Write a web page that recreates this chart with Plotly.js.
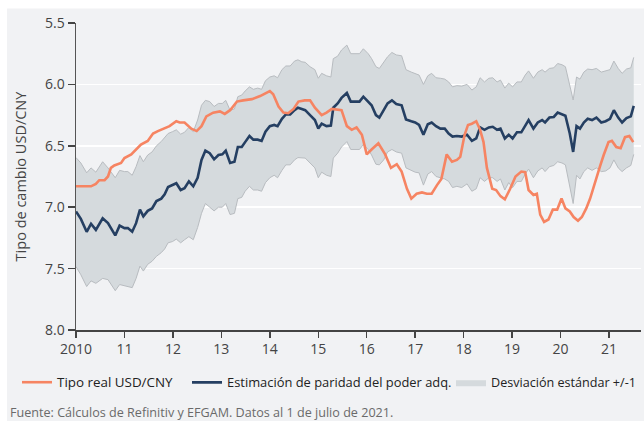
<!DOCTYPE html>
<html>
<head>
<meta charset="utf-8">
<script src="https://cdn.plot.ly/plotly-3.0.1.min.js"></script>
<style>html,body{margin:0;padding:0;background:#fff;}#chart{width:644px;height:421px;}</style>
</head>
<body>
<div id="chart"></div>
<script>
// PPP estimate (navy) and +/-1 std band
var pppYears = [2010.00,2010.10,2010.22,2010.31,2010.41,2010.55,2010.66,2010.81,2010.90,2011.00,2011.07,2011.16,2011.24,2011.32,2011.39,2011.48,2011.57,2011.66,2011.76,2011.83,2011.90,2011.99,2012.07,2012.16,2012.24,2012.33,2012.42,2012.51,2012.59,2012.67,2012.76,2012.85,2012.94,2013.02,2013.09,2013.18,2013.27,2013.34,2013.42,2013.49,2013.58,2013.66,2013.75,2013.83,2013.91,2014.00,2014.09,2014.16,2014.25,2014.33,2014.42,2014.51,2014.58,2014.66,2014.73,2014.83,2014.93,2015.00,2015.07,2015.17,2015.26,2015.31,2015.40,2015.48,2015.59,2015.67,2015.76,2015.85,2015.93,2016.03,2016.10,2016.19,2016.26,2016.35,2016.43,2016.52,2016.61,2016.72,2016.81,2016.92,2017.00,2017.08,2017.17,2017.26,2017.34,2017.43,2017.52,2017.61,2017.69,2017.77,2017.86,2017.96,2018.07,2018.17,2018.26,2018.34,2018.43,2018.52,2018.60,2018.69,2018.76,2018.85,2018.93,2019.01,2019.10,2019.19,2019.27,2019.34,2019.44,2019.53,2019.62,2019.68,2019.77,2019.86,2019.94,2020.03,2020.10,2020.19,2020.26,2020.33,2020.40,2020.48,2020.56,2020.65,2020.74,2020.84,2020.93,2021.02,2021.10,2021.19,2021.27,2021.36,2021.45,2021.51];
var pppValues = [7.035,7.095,7.20,7.135,7.185,7.09,7.13,7.23,7.15,7.17,7.17,7.20,7.13,7.02,7.075,7.03,7.01,6.95,6.93,6.895,6.835,6.82,6.805,6.86,6.845,6.79,6.83,6.76,6.615,6.54,6.56,6.61,6.575,6.57,6.54,6.64,6.63,6.51,6.51,6.47,6.42,6.45,6.45,6.46,6.385,6.34,6.33,6.34,6.28,6.245,6.245,6.21,6.19,6.20,6.21,6.25,6.29,6.36,6.32,6.34,6.335,6.19,6.155,6.11,6.07,6.14,6.14,6.14,6.10,6.14,6.17,6.25,6.27,6.21,6.155,6.13,6.16,6.17,6.285,6.30,6.31,6.33,6.41,6.325,6.31,6.34,6.36,6.36,6.40,6.425,6.42,6.425,6.41,6.46,6.44,6.35,6.37,6.35,6.345,6.37,6.36,6.44,6.41,6.44,6.39,6.39,6.33,6.29,6.36,6.31,6.29,6.31,6.27,6.265,6.23,6.245,6.255,6.40,6.55,6.34,6.36,6.31,6.28,6.29,6.27,6.31,6.30,6.28,6.21,6.27,6.31,6.275,6.26,6.175];
var bandUpper = [6.596,6.64,6.72,6.68,6.715,6.63,6.68,6.76,6.70,6.71,6.71,6.74,6.67,6.58,6.63,6.575,6.55,6.50,6.465,6.43,6.40,6.385,6.37,6.405,6.39,6.35,6.385,6.29,6.17,6.13,6.14,6.18,6.155,6.155,6.13,6.21,6.20,6.10,6.087,6.054,6.02,6.04,6.03,6.04,5.97,5.94,5.93,5.946,5.88,5.85,5.85,5.81,5.80,5.816,5.82,5.856,5.88,5.95,5.91,5.93,5.94,5.79,5.77,5.72,5.68,5.75,5.75,5.75,5.71,5.75,5.79,5.856,5.87,5.816,5.775,5.74,5.76,5.767,5.88,5.90,5.91,5.924,6.00,5.93,5.91,5.946,5.95,5.957,5.98,6.02,6.01,6.014,6.00,6.046,6.02,5.946,5.98,5.95,5.946,5.98,5.965,6.03,5.99,6.02,5.98,5.98,5.924,5.89,5.95,5.90,5.88,5.90,5.87,5.865,5.83,5.84,5.856,6.005,6.127,5.94,5.957,5.90,5.875,5.88,5.87,5.90,5.89,5.88,5.81,5.87,5.91,5.875,5.865,5.78];
var bandLower = [7.484,7.55,7.646,7.60,7.62,7.58,7.59,7.68,7.63,7.64,7.645,7.655,7.58,7.48,7.52,7.465,7.44,7.40,7.37,7.34,7.29,7.28,7.26,7.29,7.265,7.24,7.265,7.165,7.05,6.97,7.00,7.03,7.00,7.00,6.97,7.06,7.05,6.93,6.92,6.87,6.83,6.86,6.86,6.87,6.80,6.76,6.74,6.76,6.70,6.655,6.655,6.615,6.596,6.596,6.60,6.64,6.68,6.76,6.715,6.74,6.75,6.60,6.56,6.51,6.466,6.53,6.53,6.53,6.49,6.53,6.575,6.65,6.655,6.615,6.55,6.53,6.55,6.56,6.68,6.70,6.715,6.72,6.82,6.73,6.71,6.75,6.76,6.77,6.79,6.84,6.83,6.84,6.81,6.87,6.85,6.76,6.79,6.76,6.76,6.79,6.77,6.86,6.80,6.84,6.79,6.79,6.73,6.69,6.76,6.705,6.68,6.71,6.67,6.66,6.63,6.64,6.655,6.82,6.97,6.74,6.77,6.71,6.68,6.70,6.68,6.71,6.705,6.68,6.615,6.68,6.71,6.68,6.66,6.57];

// Real USD/CNY (orange)
var realYears = [2010.00,2010.31,2010.41,2010.48,2010.59,2010.66,2010.72,2010.79,2010.93,2011.00,2011.14,2011.24,2011.34,2011.48,2011.59,2011.69,2011.83,2011.93,2012.07,2012.14,2012.24,2012.38,2012.49,2012.59,2012.69,2012.83,2012.97,2013.07,2013.18,2013.32,2013.45,2013.63,2013.80,2013.94,2014.00,2014.07,2014.18,2014.28,2014.38,2014.49,2014.59,2014.72,2014.83,2014.93,2015.07,2015.17,2015.28,2015.48,2015.59,2015.69,2015.79,2015.90,2016.00,2016.10,2016.24,2016.38,2016.50,2016.62,2016.72,2016.83,2016.92,2017.03,2017.14,2017.24,2017.34,2017.45,2017.54,2017.65,2017.76,2017.86,2017.93,2018.02,2018.09,2018.17,2018.26,2018.34,2018.41,2018.48,2018.59,2018.67,2018.76,2018.85,2018.96,2019.07,2019.19,2019.27,2019.34,2019.44,2019.51,2019.58,2019.66,2019.75,2019.84,2019.93,2020.02,2020.10,2020.19,2020.27,2020.36,2020.44,2020.53,2020.61,2020.72,2020.82,2020.89,2020.99,2021.06,2021.15,2021.24,2021.33,2021.42,2021.50];
var realValues = [6.83,6.83,6.81,6.78,6.78,6.75,6.68,6.66,6.64,6.60,6.57,6.53,6.49,6.46,6.40,6.38,6.355,6.34,6.30,6.31,6.31,6.36,6.38,6.34,6.26,6.23,6.22,6.24,6.21,6.14,6.13,6.12,6.095,6.065,6.054,6.08,6.18,6.23,6.235,6.20,6.14,6.13,6.13,6.19,6.25,6.23,6.20,6.21,6.34,6.37,6.35,6.41,6.57,6.53,6.48,6.57,6.68,6.65,6.71,6.85,6.93,6.89,6.88,6.89,6.89,6.82,6.77,6.57,6.63,6.615,6.59,6.41,6.33,6.32,6.30,6.37,6.47,6.68,6.85,6.86,6.91,6.935,6.85,6.75,6.71,6.715,6.86,6.90,6.89,7.06,7.12,7.10,7.02,7.02,6.93,7.01,7.035,7.08,7.11,7.08,7.01,6.93,6.78,6.66,6.575,6.47,6.46,6.51,6.52,6.43,6.42,6.47];

var tickYears = [2010,2011,2012,2013,2014,2015,2016,2017,2018,2019,2020,2021];
var tickYearLabels = ['2010','11','12','13','14','15','16','17','18','19','20','21'];
var yTicks = [5.5,6.0,6.5,7.0,7.5,8.0];
var yTickLabels = ['5.5','6.0','6.5','7.0','7.5','8.0'];

var seriesNames = ['Tipo real USD/CNY','Estimación de paridad del poder adq.','Desviación estándar +/-1'];

var FONT = '"Open Sans", Roboto, sans-serif';
var edge = '#b8bcc0';

var traces = [
  {x: pppYears, y: bandUpper, type: 'scatter', mode: 'lines', line: {color: edge, width: 1}, showlegend: false, hoverinfo: 'skip'},
  {x: pppYears, y: bandLower, type: 'scatter', mode: 'lines', line: {color: edge, width: 0}, fill: 'tonexty', fillcolor: '#d5dadd', name: seriesNames[2], legend: 'legend3'},
  {x: pppYears, y: bandLower, type: 'scatter', mode: 'lines', line: {color: edge, width: 1}, showlegend: false, hoverinfo: 'skip'},
  {x: pppYears, y: pppValues, type: 'scatter', mode: 'lines', line: {color: '#253f62', width: 2.6}, name: seriesNames[1], legend: 'legend2'},
  {x: realYears, y: realValues, type: 'scatter', mode: 'lines', line: {color: '#f68462', width: 2.6}, name: seriesNames[0], legend: 'legend'}
];

function legendAt(px, size) {
  return {orientation: 'h', x: (px - 76) / 565, xanchor: 'left', y: -0.171, yanchor: 'middle', font: {size: size, color: '#222'}, bgcolor: 'rgba(0,0,0,0)', itemwidth: 30, borderwidth: 0};
}

var layout = {
  width: 644, height: 421,
  margin: {l: 76, r: 3, t: 23, b: 91},
  paper_bgcolor: '#ffffff',
  plot_bgcolor: 'rgba(0,0,0,0)',
  font: {family: FONT, size: 13, color: '#404040'},
  showlegend: true,
  legend: legendAt(17, 13.4),
  legend2: legendAt(187, 12.9),
  legend3: legendAt(451, 12.6),
  xaxis: {range: [2010, 2021.66], tickmode: 'array', tickvals: tickYears, ticktext: tickYearLabels, ticks: 'outside', ticklen: 6, tickwidth: 1.5, tickcolor: '#444', showline: true, linecolor: '#444', linewidth: 1.5, showgrid: false, zeroline: false, tickfont: {size: 14, color: '#444'}},
  yaxis: {range: [8.0, 5.5], tickmode: 'array', tickvals: yTicks, ticktext: yTickLabels, ticks: 'outside', ticklen: 7, tickwidth: 1.5, tickcolor: '#444', showline: true, linecolor: '#555', linewidth: 1.5, showgrid: true, gridcolor: '#ffffff', gridwidth: 1.5, zeroline: false, tickfont: {size: 14, color: '#444'},
    title: {text: 'Tipo de cambio USD/CNY', font: {size: 14.5, color: '#444'}, standoff: 15}},
  shapes: [{type: 'rect', xref: 'paper', yref: 'paper', x0: -0.1221, x1: 1.01, y0: -0.31, y1: 1.0472, fillcolor: '#f1f2f4', line: {width: 0}, layer: 'below'}],
  annotations: [{xref: 'paper', yref: 'paper', x: -0.121, y: -0.27, xanchor: 'left', yanchor: 'middle', showarrow: false, text: 'Fuente: Cálculos de Refinitiv y EFGAM. Datos al 1 de julio de 2021.', font: {size: 12.6, color: '#6a6a6a'}}]
};

Plotly.newPlot('chart', traces, layout, {staticPlot: true, displayModeBar: false});
</script>
</body>
</html>
